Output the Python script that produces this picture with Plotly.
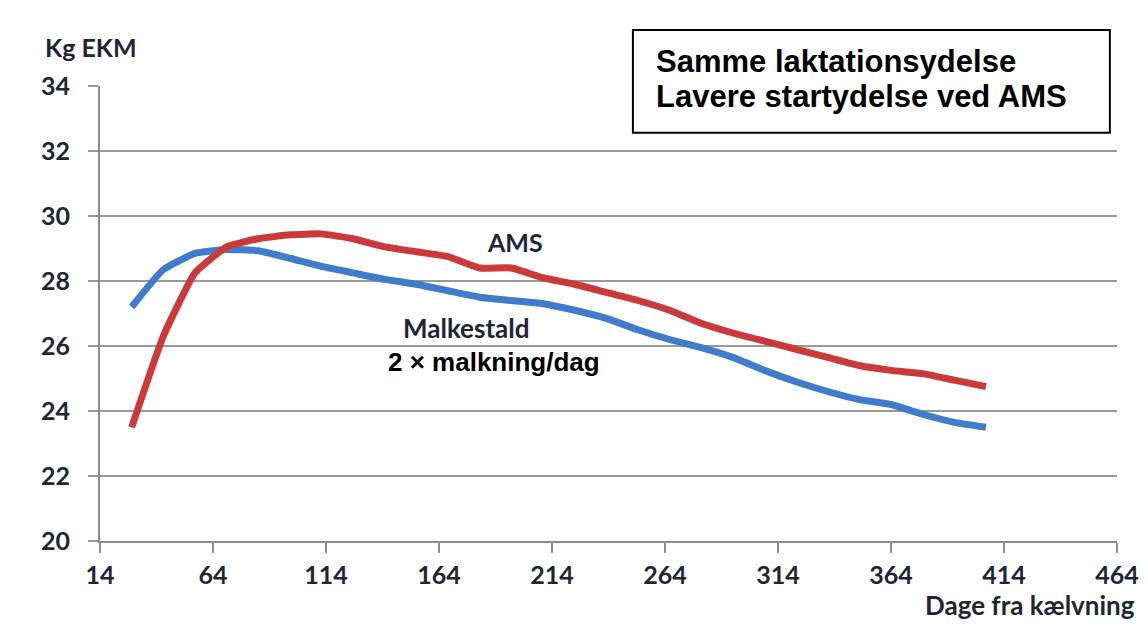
import plotly.graph_objects as go

days = [28, 42, 56, 70, 84, 98, 112, 126, 140, 154, 168, 182, 196, 210,
        224, 238, 252, 266, 280, 294, 308, 322, 336, 350, 364, 378, 392, 406]
malkestald = [27.2, 28.35, 28.85, 28.97, 28.93, 28.7, 28.45, 28.25, 28.05, 27.9,
              27.7, 27.5, 27.4, 27.3, 27.1, 26.85, 26.5, 26.2, 25.95, 25.65,
              25.25, 24.9, 24.6, 24.35, 24.2, 23.9, 23.65, 23.5]
ams = [23.5, 26.3, 28.25, 29.05, 29.3, 29.42, 29.45, 29.3, 29.05, 28.9,
       28.75, 28.4, 28.4, 28.1, 27.9, 27.65, 27.4, 27.1, 26.7, 26.4,
       26.15, 25.9, 25.65, 25.4, 25.25, 25.15, 24.95, 24.75]
x_ticks = [14, 64, 114, 164, 214, 264, 314, 364, 414, 464]
y_ticks = [20, 22, 24, 26, 28, 30, 32, 34]

HUM = "Lato, Open Sans, sans-serif"
ARIAL = "Liberation Sans, Arial, sans-serif"
INK = "#1e2635"

fig = go.Figure()
fig.add_trace(go.Scatter(x=days, y=malkestald, mode="lines", name="Malkestald",
                         line=dict(color="#3f7ccb", width=7, shape="spline", smoothing=0.4)))
fig.add_trace(go.Scatter(x=days, y=ams, mode="lines", name="AMS",
                         line=dict(color="#cc393b", width=7, shape="spline", smoothing=0.4)))

fig.update_layout(
    width=1140, height=621,
    margin=dict(l=92, r=31, t=78, b=88),
    paper_bgcolor="white", plot_bgcolor="white",
    showlegend=False,
    xaxis=dict(range=[14, 464], tickvals=x_ticks, ticks="outside", ticklen=10,
               tickwidth=2, tickcolor="#8c8c8c", showgrid=False, zeroline=False,
               showline=True, linecolor="#8c8c8c", linewidth=2, automargin=False,
               tickfont=dict(family=HUM, size=25, color=INK, weight="bold"),
               ticklabelstandoff=1),
    yaxis=dict(range=[20, 34], tickvals=y_ticks, ticks="outside", ticklen=10,
               tickwidth=2, tickcolor="#9a9a9a", showgrid=True, gridcolor="#9a9a9a",
               gridwidth=2, zeroline=False, showline=True, linecolor="#8c8c8c",
               linewidth=2, automargin=False,
               tickfont=dict(family=HUM, size=25, color=INK, weight="bold"),
               ticklabelstandoff=13),
)

fig.add_shape(type="rect", xref="paper", yref="paper", x0=0.524, x1=0.993,
              y0=0.897, y1=1.123, line=dict(color="black", width=2),
              fillcolor="white")

ann = [
    dict(text="<b>Samme laktationsydelse</b>", x=0.545, y=1.053, xanchor="left",
         yanchor="middle", font=dict(family=ARIAL, size=31, color="black")),
    dict(text="<b>Lavere startydelse ved AMS</b>", x=0.545, y=0.976, xanchor="left",
         yanchor="middle", font=dict(family=ARIAL, size=31, color="black")),
    dict(text="<b>Kg EKM</b>", x=-0.056, y=1.085, xanchor="left", yanchor="middle",
         font=dict(family=HUM, size=25, color=INK)),
    dict(text="<b>Dage fra kælvning</b>", x=1.020, y=-0.140, xanchor="right",
         yanchor="middle", font=dict(family=HUM, size=26, color=INK)),
]
for a in ann:
    fig.add_annotation(xref="paper", yref="paper", showarrow=False, **a)

fig.add_annotation(x=197.5, y=29.2, text="<b>AMS</b>", showarrow=False,
                   font=dict(family=HUM, size=25, color=INK))
fig.add_annotation(x=176, y=26.55, text="<b>Malkestald</b>", showarrow=False,
                   font=dict(family=HUM, size=26, color=INK))
fig.add_annotation(x=188.5, y=25.5, text="<b>2 × malkning/dag</b>", showarrow=False,
                   font=dict(family=ARIAL, size=26, color="black"))

fig.write_html("out.html")
